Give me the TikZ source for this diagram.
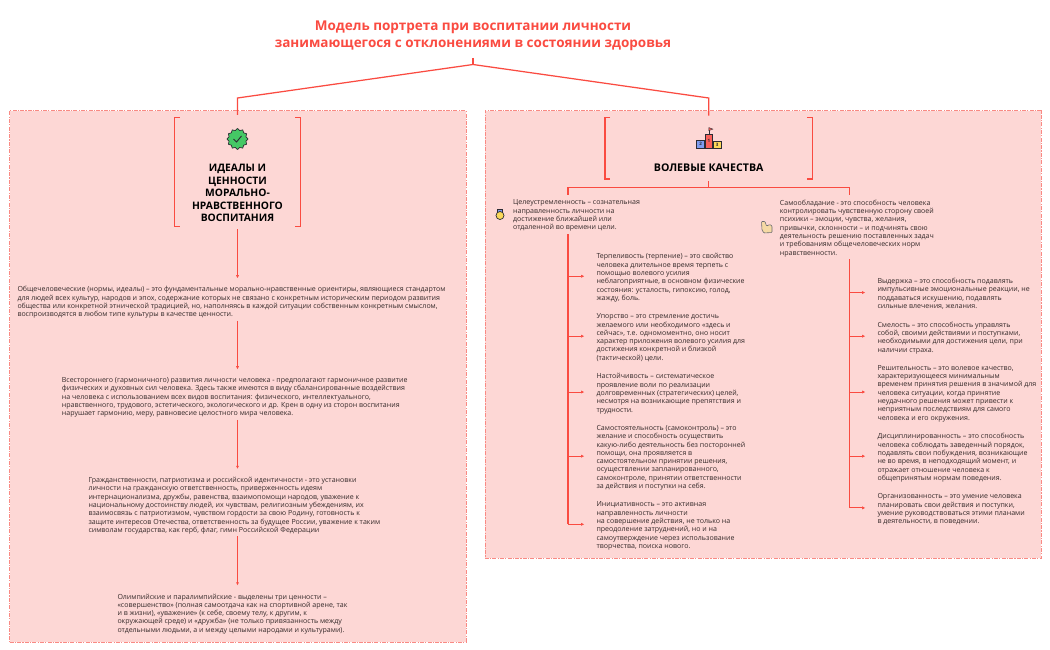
\documentclass[tikz,border=0pt]{standalone}
\usepackage{fontspec}
\setmainfont{Open Sans}
\usepackage{xcolor}
\usetikzlibrary{positioning,arrows.meta,shapes.geometric,calc}
\definecolor{modelred}{HTML}{FA4B41}
\definecolor{panelpink}{HTML}{FDD7D5}
\definecolor{panelline}{HTML}{F98A84}
\definecolor{bodyink}{HTML}{352A2A}
\definecolor{iconink}{HTML}{2B2B33}
\definecolor{badgegreen}{HTML}{45C865}
\definecolor{podblue}{HTML}{7F9CF0}
\definecolor{podred}{HTML}{F9605A}
\definecolor{podyellow}{HTML}{FBD85A}
\definecolor{armtan}{HTML}{F6D9A4}
\tikzset{
  panel/.style={draw=panelline,fill=panelpink,line width=.7pt,dash pattern=on 4pt off 1.2pt on 1.2pt off 1.2pt,anchor=north west,inner sep=0pt},
  head/.style={minimum width=125pt,inner sep=0pt},
  headtxt/.style={align=center,inner sep=0pt,font=\fontsize{10.3}{12.5}\selectfont\bfseries,text=black},
  txt/.style={align=left,inner ysep=1.5pt,inner xsep=0pt,text=bodyink,font=\fontsize{7.03}{8.3}\selectfont,execute at begin node=\strut,execute at end node=\strut},
  lead/.style={txt,inner ysep=4.7pt},
  sub/.style={txt,inner ysep=3.5pt,inner xsep=12pt},
  brk/.style={draw=modelred,line width=1.3pt},
  wire/.style={draw=modelred,line width=1.25pt},
  arr/.style={-{Latex[length=3.2pt,width=3.2pt]},draw=modelred,line width=.9pt},
  podium/.style={draw=iconink,line width=.7pt,anchor=south,inner sep=0pt,minimum width=7.6pt,font=\fontsize{4.5}{5}\selectfont\bfseries,text=iconink},
}
\begin{document}
\begin{tikzpicture}[x=1pt,y=-1pt]
\useasboundingbox (0,0) rectangle (1050,650);
\node[panel,minimum width=456.2pt,minimum height=531pt] (panelA) at (9.3,110.5) {};
\node[panel,minimum width=556pt,minimum height=447.5pt] (panelB) at (484.5,110.5) {};
\node[align=center,inner sep=0pt,text=modelred,font=\fontsize{13.5}{17}\selectfont\bfseries] (title) at (473,36) {Модель портрета при воспитании личности\\занимающегося с отклонениями в состоянии здоровья};
% headers
\node[head,minimum height=108pt] (hdrA) at (237.5,172) {};
\node[head,minimum width=207pt,minimum height=61pt] (hdrB) at (708.7,148.3) {};
\foreach \h in {hdrA,hdrB}{
  \draw[brk] ($(\h.north west)+(5,0)$) -| (\h.south west) -- ++(5,0);
  \draw[brk] ($(\h.north east)+(-5,0)$) -| (\h.south east) -- ++(-5,0);
}
\node[headtxt] (hdrAtxt) at (237.5,193) {ИДЕАЛЫ И\\ЦЕННОСТИ\\МОРАЛЬНО-\\НРАВСТВЕННОГО\\ВОСПИТАНИЯ};
\node[headtxt,font=\fontsize{10.6}{12.5}\selectfont\bfseries] (hdrBtxt) at (708.7,168) {ВОЛЕВЫЕ КАЧЕСТВА};
% top connector
\coordinate (root) at (473,58);
\draw[wire] (title.south |- root) -- ++(0,6.5) coordinate (fork);
\draw[wire,shorten >=3pt] (fork) -- (hdrA.north |- 0,98) -- (hdrA.north);
\draw[wire,shorten >=2pt] (fork) -- (hdrB.north |- 0,98) -- (hdrB.north);
% left column
\node[txt,below=58.6pt of hdrA.south,anchor=north west,xshift=-220.2pt] (ideal1) {Общечеловеческие (нормы, идеалы) – это фундаментальные морально-нравственные ориентиры, являющиеся стандартом\\для людей всех культур, народов и эпох, содержание которых не связано с конкретным историческим периодом развития\\общества или конкретной этнической традицией, но, наполняясь в каждой ситуации собственным конкретным смыслом,\\воспроизводятся в любом типе культуры в качестве ценности.};
\node[txt,below=54.9pt of ideal1.south west,anchor=north west,xshift=44.4pt] (ideal2) {Всестороннего (гармоничного) развития личности человека - предполагают гармоничное развитие\\физических и духовных сил человека. Здесь также имеются в виду сбалансированные воздействия\\на человека с использованием всех видов воспитания: физического, интеллектуального,\\нравственного, трудового, эстетического, экологического и др. Крен в одну из сторон воспитания\\нарушает гармонию, меру, равновесие целостного мира человека.};
\node[txt,below=55.5pt of ideal2.south west,anchor=north west,xshift=26.6pt] (ideal3) {Гражданственности, патриотизма и российской идентичности - это установки\\личности на гражданскую ответственность, приверженность идеям\\интернационализма, дружбы, равенства, взаимопомощи народов, уважение к\\национальному достоинству людей, их чувствам, религиозным убеждениям, их\\взаимосвязь с патриотизмом, чувством гордости за свою Родину, готовность к\\защите интересов Отечества, ответственность за будущее России, уважение к таким\\символам государства, как герб, флаг, гимн Российской Федерации};
\node[txt,below=55.5pt of ideal3.south west,anchor=north west,xshift=29pt] (ideal4) {Олимпийские и паралимпийские -  выделены три ценности –\\«совершенство» (полная самоотдача как на спортивной арене, так\\и в жизни), «уважение» (к себе, своему телу, к другим, к\\окружающей среде) и «дружба» (не только привязанность между\\отдельными людьми, а и между целыми народами и культурами).};
\draw[arr,shorten <=3pt,shorten >=6.5pt] (hdrA.south) -- (hdrA.south |- ideal1.north);
\draw[arr,shorten >=6.5pt] (hdrA.south |- ideal1.south) -- (hdrA.south |- ideal2.north);
\draw[arr,shorten >=6.5pt] (hdrA.south |- ideal2.south) -- (hdrA.south |- ideal3.north);
\draw[arr,shorten >=6.5pt] (hdrA.south |- ideal3.south) -- (hdrA.south |- ideal4.north);
% right column
\node[lead,anchor=north west] (goal) at (513,195) {Целеустремленность – сознательная\\направленность личности на\\достижение ближайшей или\\отдаленной во времени цели.};
\node[lead,anchor=north west] (selfctl) at (779.7,195) {Самообладание - это способность человека\\контролировать чувственную сторону своей\\психики – эмоции, чувства, желания,\\привычки, склонности – и подчинять свою\\деятельность решению поставленных задач\\и требованиям общечеловеческих норм\\нравственности.};
\coordinate (trunkL) at (568,234.3);
\coordinate (trunkR) at (849.3,259.3);
\coordinate (bus) at (708.7,187.5);
\draw[wire,shorten <=2.3pt] (hdrB.south) -- (bus);
\draw[wire] (trunkL |- goal.north) |- (bus) -| (trunkR |- selfctl.north);
\node[sub,anchor=north west] (pat) at (584.3,249.9) {Терпеливость (терпение) – это свойство\\человека длительное время терпеть с\\помощью волевого усилия\\неблагоприятные, в основном физические\\состояния: усталость, гипоксию, голод,\\жажду, боль.};
\node[sub,below=3.4pt of pat.south west,anchor=north west] (persist) {Упорство – это стремление достичь\\желаемого или необходимого «здесь и\\сейчас», т.е. одномоментно, оно носит\\характер приложения волевого усилия для\\достижения конкретной и близкой\\(тактической) цели.};
\node[sub,below=3.4pt of persist.south west,anchor=north west] (tenac) {Настойчивость – систематическое\\проявление воли по реализации\\долговременных (стратегических) целей,\\несмотря на возникающие препятствия и\\трудности.};
\node[sub,below=3.4pt of tenac.south west,anchor=north west] (indep) {Самостоятельность (самоконтроль) – это\\желание и способность осуществить\\какую-либо деятельность без посторонней\\помощи, она проявляется в\\самостоятельном принятии решения,\\осуществлении запланированного,\\самоконтроле, принятии ответственности\\за действия и поступки на себя.};
\node[sub,below=3.4pt of indep.south west,anchor=north west] (init) {Инициативность – это активная\\направленность личности\\на совершение действия, не только на\\преодоление затруднений, но и на\\самоутверждение через использование\\творчества, поиска нового.};
\node[sub,anchor=north west] (endur) at (865.3,274.5) {Выдержка – это способность подавлять\\импульсивные эмоциональные реакции, не\\поддаваться искушению, подавлять\\сильные влечения, желания.};
\node[sub,below=3.4pt of endur.south west,anchor=north west] (courage) {Смелость – это способность управлять\\собой, своими действиями и поступками,\\необходимыми для достижения цели, при\\наличии страха.};
\node[sub,below=3.4pt of courage.south west,anchor=north west] (resolve) {Решительность – это волевое качество,\\характеризующееся минимальным\\временем принятия решения в значимой для\\человека ситуации, когда принятие\\неудачного решения может привести к\\неприятным последствиям для самого\\человека и его окружения.};
\node[sub,below=3.4pt of resolve.south west,anchor=north west] (discip) {Дисциплинированность – это способность\\человека соблюдать заведенный порядок,\\подавлять свои побуждения, возникающие\\не во время, в неподходящий момент, и\\отражает отношение человека к\\общепринятым нормам поведения.};
\node[sub,below=3.4pt of discip.south west,anchor=north west] (organ) {Организованность – это умение человека\\планировать свои действия и поступки,\\умение руководствоваться этими планами\\в деятельности, в поведении.};
\draw[wire] (trunkL) -- ($(trunkL |- init.west)+(0,-2)$);
\draw[wire] (trunkR) -- ($(trunkR |- organ.west)+(0,-2)$);
\foreach \t in {pat,persist,tenac,indep,init}
  \draw[arr] ($(trunkL |- \t.west)+(0,-2)$) -- ($(\t.west)+(0,-2)$);
\foreach \t in {endur,courage,resolve,discip,organ}
  \draw[arr] ($(trunkR |- \t.west)+(0,-2)$) -- ($(\t.west)+(0,-2)$);
% icons
\node[star,star points=12,star point ratio=1.2,draw=iconink,fill=badgegreen,line width=.7pt,minimum size=21pt,inner sep=0pt] (check) at (237.5,139) {};
\draw[iconink,line width=.9pt] ($(check)+(-4,0)$) -- ($(check)+(-1,3)$) -- ($(check)+(4,-3)$);
\node[podium,fill=podred,minimum height=14pt] (place1) at (708.9,148.3) {1};
\node[podium,fill=podblue,minimum height=7.6pt,left=0pt of place1.south west,anchor=south east] (place2) {2};
\node[podium,fill=podyellow,minimum height=6.6pt,right=0pt of place1.south east,anchor=south west] (place3) {3};
\draw[iconink,line width=.6pt] (place1.north) -- ++(0,-6) coordinate (pole);
\draw[fill=podred,draw=iconink,line width=.4pt] (pole) -- ++(4,1.5) -- ++(-4,1.5) -- cycle;
\fill[podblue,draw=iconink,line width=.3pt] (497.5,209) rectangle (502.5,212);
\node[circle,draw=iconink,fill=podyellow,line width=.7pt,minimum size=8pt,inner sep=0pt] (medal) at (500,215.5) {};
\draw[fill=armtan,draw=iconink!70,line width=.6pt,rounded corners=.8pt] (761.5,221.5) -- (765,221.5) -- (766.5,226) -- (770,224.5) -- (772,226) -- (772,232.5) -- (764,233) -- (762,230) -- cycle;
\end{tikzpicture}
\end{document}
